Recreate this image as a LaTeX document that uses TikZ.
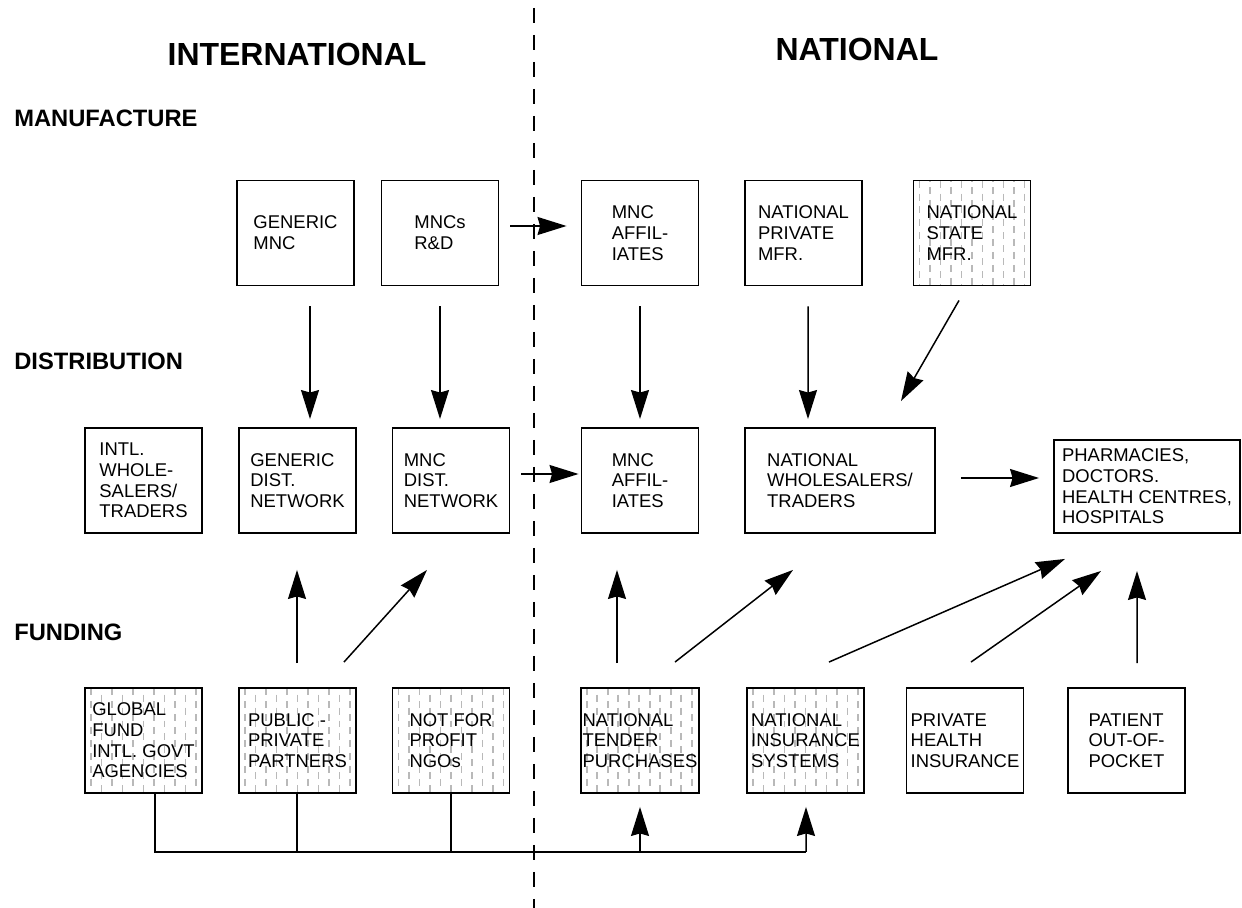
\documentclass[tikz,border=0pt]{standalone}
\usepackage{fontspec}
\setmainfont{Liberation Sans}
\usetikzlibrary{arrows.meta, calc}
\tikzstyle{box} = [rectangle, draw=black, line width=1.1pt, minimum width=2.34cm, minimum height=2.1cm, inner xsep=1pt, align=left, font=\fontsize{10.5}{11.8}\selectfont]
\tikzstyle{heading} = [anchor=west, inner sep=0pt, font=\fontsize{13.5}{15}\selectfont\bfseries]
\tikzstyle{title} = [inner sep=0pt, font=\fontsize{18.2}{21}\selectfont\bfseries]
\tikzstyle{arrow} = [line width=0.85pt, -{Stealth[length=0.58cm, width=0.36cm, inset=0.05cm]}]
\tikzstyle{line} = [line width=0.85pt]
\tikzstyle{divider} = [line width=1.1pt, dash pattern=on 0.3cm off 0.24cm]
\tikzset{hatched/.style={path picture={
  \foreach \k [evaluate=\k as \ph using {mod(\k,2)*0.13}] in {0,...,10}
    \draw[gray!55, line width=1.1pt, dash pattern=on 0.14cm off 0.12cm, dash phase=\ph cm]
      ([xshift=0.12cm+\k*0.21cm]path picture bounding box.north west) --
      ([xshift=0.12cm+\k*0.21cm]path picture bounding box.south west);
}}}
\begin{document}
\begin{tikzpicture}[x=0.02cm, y=-0.02cm]
\useasboundingbox (0,0) rectangle (1242,908);

% headings
\node (intl) [title] at (297,54) {INTERNATIONAL};
\node (natl) [title] at (857,49) {NATIONAL};
\node (manuf) [heading] at (14,118) {MANUFACTURE};
\node (distr) [heading] at (14,361) {DISTRIBUTION};
\node (fund) [heading] at (14,632) {FUNDING};

% divider
\coordinate (divtop) at (534,8);
\coordinate (divbot) at (534,908);
\draw [divider] (divtop) -- (divbot);

% manufacture
\node (genmnc) [box] at (295.5,233) {GENERIC\\MNC};
\node (mncrd) [box] at (440,233) {MNCs\\R\&D};
\node (mncaff) [box] at (640,233) {MNC\\AFFIL-\\IATES};
\node (natpriv) [box] at (803.5,233) {NATIONAL\\PRIVATE\\MFR.};
\node (natstate) [box, hatched] at (972,233) {NATIONAL\\STATE\\MFR.};

% distribution
\node (intlwhole) [box] at (143.5,480.5) {INTL.\\WHOLE-\\SALERS/\\TRADERS};
\node (gendist) [box] at (297.5,480.5) {GENERIC\\DIST.\\NETWORK};
\node (mncdist) [box] at (451,480.5) {MNC\\DIST.\\NETWORK};
\node (mncaffd) [box] at (640,480.5) {MNC\\AFFIL-\\IATES};
\node (natwhole) [box, minimum width=3.8cm] at (840,480.5) {NATIONAL\\WHOLESALERS/\\TRADERS};
\node (pharm) [box, minimum width=3.72cm, minimum height=1.86cm] at (1147,486.5) {PHARMACIES,\\DOCTORS.\\HEALTH CENTRES,\\HOSPITALS};

% funding
\node (global) [box, hatched] at (143.5,740.5) {GLOBAL\\FUND\\INTL. GOVT\\AGENCIES};
\node (ppp) [box, hatched] at (297.5,740.5) {PUBLIC -\\PRIVATE\\PARTNERS};
\node (npo) [box, hatched] at (451,740.5) {NOT FOR\\PROFIT\\NGOs};
\node (tender) [box, hatched] at (640,740.5) {NATIONAL\\TENDER\\PURCHASES};
\node (insur) [box, hatched] at (805.5,740.5) {NATIONAL\\INSURANCE\\SYSTEMS};
\node (privins) [box] at (965,740.5) {PRIVATE\\HEALTH\\INSURANCE};
\node (patient) [box] at (1126.5,740.5) {PATIENT\\OUT-OF-\\POCKET};

% manufacture to distribution
\draw [arrow] ($(mncrd.east)+(11,-7)$) -- ($(mncaff.west)+(-14,-7)$);
\draw [arrow] ($(genmnc.south)+(14.5,20)$) -- ($(gendist.north)+(12.5,-8)$);
\draw [arrow] ($(mncrd.south)+(0,20)$) -- ($(mncdist.north)+(-11,-8)$);
\draw [arrow] ($(mncaff.south)+(0,20)$) -- ($(mncaffd.north)+(0,-8)$);
\draw [arrow] ($(natpriv.south)+(4.5,20)$) -- ($(natwhole.north)+(-32,-8)$);
\draw [arrow] ($(natstate.south)+(-13,14)$) -- ($(natwhole.north)+(61,-26)$);
\draw [arrow] ($(mncdist.east)+(11,-6.5)$) -- ($(mncaffd.west)+(-2,-6.5)$);
\draw [arrow] ($(natwhole.east)+(25,-2.5)$) -- ($(pharm.west)+(-14,-8.5)$);

% funding to distribution
\draw [arrow] ($(ppp.north)+(-0.5,-24)$) -- ($(gendist.south)+(-0.5,36)$);
\draw [arrow] ($(ppp.north)+(46.5,-25)$) -- ($(mncdist.south)+(-24,36)$);
\draw [arrow] ($(tender.north)+(-23,-24)$) -- ($(mncaffd.south)+(-23,36)$);
\draw [arrow] ($(tender.north)+(35,-25)$) -- ($(natwhole.south)+(-47,36)$);
\draw [arrow] ($(insur.north)+(23.5,-25)$) -- ($(pharm.south)+(-82,25)$);
\draw [arrow] ($(privins.north)+(6,-25)$) -- ($(pharm.south)+(-46,37)$);
\draw [arrow] ($(patient.north)+(10.5,-24)$) -- ($(pharm.south)+(-10,37)$);

% international funds to national purchasers
\coordinate (busl) at (155,852);
\coordinate (busr) at (806,852);
\coordinate (busm) at (297,852);
\draw [line] (global.south -| busl) -- (busl) -- (busr);
\draw [line] (ppp.south -| busm) -- (busm);
\draw [line] (npo.south) -- (npo.south |- busl);
\draw [arrow] (tender.south |- busl) -- ($(tender.south)+(0,13)$);
\draw [arrow] (busr) -- ($(insur.south)+(0.5,13)$);
\end{tikzpicture}
\end{document}
